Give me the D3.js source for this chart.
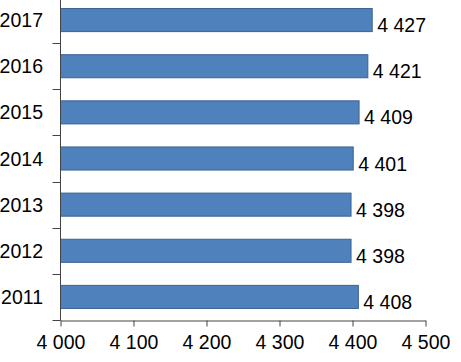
<!DOCTYPE html>
<html>
  <head>
    <meta charset="utf-8">
    <title>Bar chart</title>
    <script src="https://d3js.org/d3.v7.min.js"></script>
    <style>
      body { margin: 0; background: #fff; }
      text { font-family: "Liberation Sans", Arial, sans-serif; fill: #000; }
    </style>
  </head>
  <body>
    <div id="chart"></div>
    <script type="text/javascript">
      var years = ["2011", "2012", "2013", "2014", "2015", "2016", "2017"];
      var values = [4408, 4398, 4398, 4401, 4409, 4421, 4427];
      var xTicks = [4000, 4100, 4200, 4300, 4400, 4500];

      var width = 461, height = 362;

      var svg = d3.select('#chart').append('svg')
          .attr('width', width)
          .attr('height', height);

      var x = d3.scaleLinear().domain([4000, 4500]).range([60.5, 425.5]);
      var y = d3.scaleBand().domain(years.slice().reverse()).range([-3, 320]).paddingInner(0.5).paddingOuter(0.25);

      // numbers like "4 400"
      var fmt = function(v) { return d3.format(',')(v).replace(',', ' '); };

      var data = years.map(function(d, i) { return {year: d, value: values[i]}; });

      svg.selectAll('rect.bar')
          .data(data)
          .enter().append('rect')
          .attr('class', 'bar')
          .attr('x', x(4000))
          .attr('y', function(d) { return y(d.year); })
          .attr('width', function(d) { return x(d.value) - x(4000); })
          .attr('height', y.bandwidth())
          .attr('fill', '#4f81bd')
          .attr('stroke', '#3a6293')
          .attr('stroke-width', 1);

      svg.selectAll('text.val')
          .data(data)
          .enter().append('text')
          .attr('class', 'val')
          .attr('x', function(d) { return x(d.value) + 5; })
          .attr('y', function(d) { return y(d.year) + y.bandwidth() / 2 + 12; })
          .attr('font-size', '19.5px')
          .text(function(d) { return fmt(d.value); });

      // y axis
      var yAxisG = svg.append('g');
      yAxisG.append('line')
          .attr('x1', x(4000)).attr('x2', x(4000))
          .attr('y1', 0).attr('y2', 320.5)
          .attr('stroke', '#444');
      var step = y.step();
      var tickYs = years.map(function(d) { return y(d) - step * 0.25; });
      tickYs.push(320);
      yAxisG.selectAll('line.tick')
          .data(tickYs)
          .enter().append('line')
          .attr('class', 'tick')
          .attr('x1', x(4000) - 8).attr('x2', x(4000))
          .attr('y1', function(d) { return Math.round(d) + 0.5; })
          .attr('y2', function(d) { return Math.round(d) + 0.5; })
          .attr('stroke', '#444');
      yAxisG.selectAll('text')
          .data(years)
          .enter().append('text')
          .attr('x', 43)
          .attr('y', function(d) { return y(d) + y.bandwidth() / 2 + 7; })
          .attr('text-anchor', 'end')
          .attr('font-size', '19.5px')
          .text(function(d) { return d; });

      // x axis
      var xAxis = d3.axisBottom(x)
          .tickValues(xTicks)
          .tickSize(6)
          .tickSizeOuter(0)
          .tickPadding(9)
          .tickFormat(fmt);

      var xAxisG = svg.append('g')
          .attr('transform', 'translate(0,320.5)')
          .call(xAxis);
      xAxisG.select('.domain').attr('stroke', '#444');
      xAxisG.selectAll('.tick line').attr('stroke', '#444');
      xAxisG.selectAll('.tick text')
          .attr('font-size', '19.5px')
          .attr('font-family', '"Liberation Sans", Arial, sans-serif')
          .attr('fill', '#000');
    </script>
  </body>
</html>
